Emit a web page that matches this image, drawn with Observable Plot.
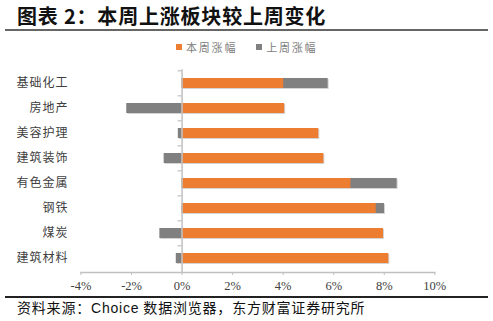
<!DOCTYPE html>
<html><head><meta charset="utf-8">
<script src="https://cdn.jsdelivr.net/npm/d3@7"></script>
<script src="https://cdn.jsdelivr.net/npm/@observablehq/plot@0.6"></script>
<style>
body{margin:0;background:#fff;}
#wrap{position:relative;width:493px;height:321px;overflow:hidden;font-family:"Noto Sans CJK SC",sans-serif;}
#title{position:absolute;left:17px;top:3px;font-size:20px;font-weight:bold;letter-spacing:0.8px;color:#111;line-height:26px;white-space:nowrap;}
#tline{position:absolute;left:5px;top:29px;width:483px;height:1.5px;background:#666;}
#legend{position:absolute;left:176px;top:39px;font-size:11px;color:#808080;letter-spacing:1.8px;display:flex;align-items:center;white-space:nowrap;line-height:16px;}
#legend .sw{display:inline-block;width:6px;height:6px;margin-right:4px;}
#legend .it{display:flex;align-items:center;margin-right:19px;}
#chart{position:absolute;left:0;top:40px;}
#bline{position:absolute;left:5px;top:296px;width:483px;height:1.5px;background:#222;}
#caption{position:absolute;left:17px;top:298px;font-size:14px;color:#111;letter-spacing:0.8px;line-height:18px;white-space:nowrap;}
#caption .lat{font-family:"Liberation Sans",Arial,sans-serif;}
#chart svg g[aria-label="y-axis tick label"] text{font-size:12px;fill:#404040;letter-spacing:1px;font-family:"Noto Sans CJK SC",sans-serif;}
#chart svg g[aria-label="x-axis tick label"] text{font-size:12.5px;fill:#404040;font-family:"Liberation Serif","Times New Roman",serif;}
</style></head><body>
<div id="wrap">
<div id="title"></div>
<div id="tline"></div>
<div id="legend"></div>
<div id="chart"></div>
<div id="bline"></div>
<div id="caption">资料来源：<span class="lat">Choice</span> 数据浏览器，东方财富证券研究所</div>
</div>
<script>
const titleText = "图表 2：本周上涨板块较上周变化";
const categories = ["基础化工","房地产","美容护理","建筑装饰","有色金属","钢铁","煤炭","建筑材料"];
const thisWeek = [4.02, 4.06, 5.41, 5.61, 6.68, 7.68, 7.97, 8.18];
const lastWeek = [5.78, -2.19, -0.15, -0.71, 8.51, 8.01, -0.88, -0.23];
const seriesNames = ["本周涨幅", "上周涨幅"];
const seriesColors = ["#ED7D31", "#808080"];
const xTicks = [-4, -2, 0, 2, 4, 6, 8, 10];

document.getElementById("title").textContent = titleText;
const leg = document.getElementById("legend");
seriesNames.forEach((n, i) => {
  const it = document.createElement("span");
  it.className = "it";
  it.innerHTML = `<span class="sw" style="background:${seriesColors[i]}"></span><span>${n}</span>`;
  leg.appendChild(it);
});

const thisData = categories.map((c, i) => ({c, v: thisWeek[i]}));
const lastData = categories.map((c, i) => ({c, v: lastWeek[i]}));

const H = 255, mT = 29.3, mB = 23;
const step = (H - mT - mB) / categories.length;

const chart = Plot.plot({
  width: 493,
  height: H,
  marginTop: mT,
  marginBottom: mB,
  marginLeft: 80.5,
  marginRight: 58.7,
  style: {background: "transparent", overflow: "visible"},
  x: {domain: [-4, 10]},
  y: {domain: categories, paddingInner: 0.6, paddingOuter: 0.3},
  marks: [
    Plot.frame({anchor: "bottom", stroke: "#c0c0c0", strokeWidth: 1.5}),
    Plot.barX(lastData, {x: "v", y: "c", fill: "#d4d4d4", dx: 1, dy: 1}),
    Plot.barX(thisData, {x: "v", y: "c", fill: "#d4d4d4", dx: 1, dy: 1}),
    Plot.barX(lastData, {x: "v", y: "c", fill: seriesColors[1]}),
    Plot.barX(thisData, {x: "v", y: "c", fill: seriesColors[0]}),
    Plot.ruleX([0], {stroke: "#c0c0c0", strokeWidth: 1.5}),
    Plot.ruleY(categories, {y: d => d, x1: -0.16, x2: 0, dy: -step / 2, stroke: "#c0c0c0", strokeWidth: 1.2}),
    Plot.axisX({ticks: xTicks, tickFormat: d => d + "%", tickSize: 3, tickPadding: 6, stroke: "#c0c0c0", label: null}),
    Plot.axisY({tickSize: 0, tickPadding: 12.5, label: null})
  ]
});
document.getElementById("chart").appendChild(chart);
</script>
</body></html>
